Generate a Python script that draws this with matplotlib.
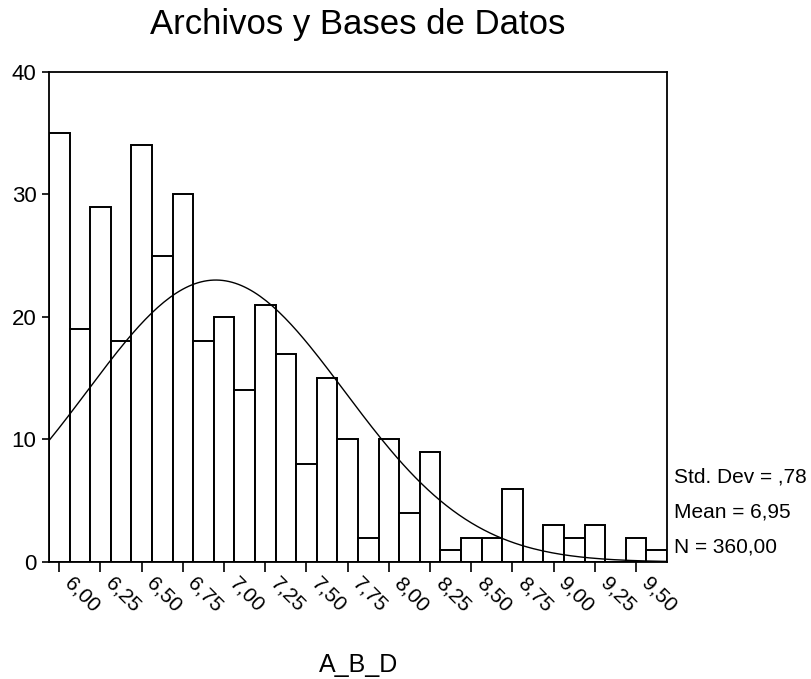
import matplotlib
matplotlib.use("Agg")
import matplotlib.pyplot as plt
import matplotlib.transforms as mtransforms
import numpy as np

plt.rcParams["font.family"] = ["Liberation Sans", "DejaVu Sans"]

# Histogram of A_B_D, bins of width 0.125 centred on 6.000 ... 9.625
bin_width = 0.125
bin_centers = [6.0 + bin_width * i for i in range(30)]
counts = [35, 19, 29, 18, 34, 25, 30, 18, 20, 14,
          21, 17, 8, 15, 10, 2, 10, 4, 9, 1,
          2, 2, 6, 0, 3, 2, 3, 0, 2, 1]
tick_values = [6.00, 6.25, 6.50, 6.75, 7.00, 7.25, 7.50, 7.75,
               8.00, 8.25, 8.50, 8.75, 9.00, 9.25, 9.50]
tick_labels = [f"{v:.2f}".replace(".", ",") for v in tick_values]
std_dev = 0.78
mean = 6.95
n_total = 360

fig = plt.figure(figsize=(8.12, 6.79), dpi=100)
ax = fig.add_axes([0.0603, 0.1723, 0.7611, 0.7217])

ax.bar(bin_centers, counts, width=bin_width, color="white",
       edgecolor="black", linewidth=1.4, zorder=2)

# normal curve with the reported mean / std dev, scaled to counts
x0 = bin_centers[0] - bin_width / 2
x1 = bin_centers[-1] + bin_width / 2
xs = np.linspace(x0, x1, 200)
ys = n_total * bin_width / (std_dev * np.sqrt(2 * np.pi)) * np.exp(-0.5 * ((xs - mean) / std_dev) ** 2)
ax.plot(xs, ys, color="black", linewidth=1.0, zorder=3)

ax.set_xlim(x0, x1)
ax.set_ylim(0, 40)
ax.set_yticks([0, 10, 20, 30, 40])
ax.set_xticks(tick_values)
ax.set_xticklabels([])
ax.tick_params(axis="y", labelsize=16, length=5, width=1.2, direction="out", pad=4)
ax.tick_params(axis="x", length=7, width=1.2, direction="out")
for sp in ax.spines.values():
    sp.set_linewidth(1.3)

# rotated tick labels, placed a bit right of and below each tick
lbl_trans = ax.get_xaxis_transform() + mtransforms.ScaledTranslation(0.15, -0.12, fig.dpi_scale_trans)
for v, s in zip(tick_values, tick_labels):
    ax.text(v, 0, s, transform=lbl_trans, rotation=-45, rotation_mode="anchor",
            ha="left", va="top", fontsize=15, clip_on=False)

ax.set_title("Archivos y Bases de Datos", fontsize=25, pad=27)
fig.text(0.441, 0.0108, "A_B_D", fontsize=18, ha="center", va="baseline")

stats = [f"Std. Dev = ,{int(round(std_dev * 100))}",
         f"Mean = {mean:.2f}".replace(".", ","),
         f"N = {n_total:.2f}".replace(".", ",")]
for i, s in enumerate(stats):
    ax.text(1.012, 0.173 - i * 0.071, s, transform=ax.transAxes,
            fontsize=15, ha="left", va="center")

fig.savefig("out.png", dpi=100)
